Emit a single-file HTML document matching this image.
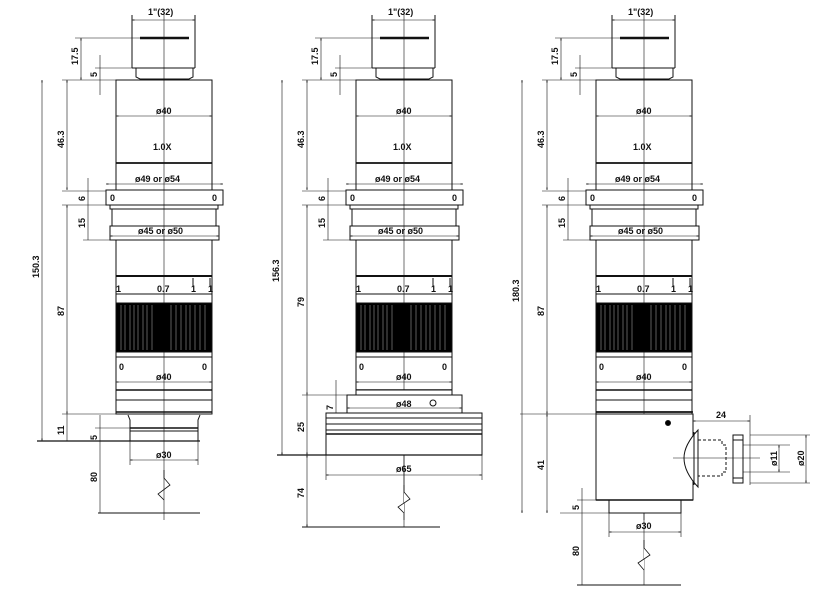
<!DOCTYPE html>
<html><head><meta charset="utf-8"><style>
html,body{margin:0;padding:0;background:#fff;}
svg{display:block;}
text{font-family:"Liberation Sans Narrow","Liberation Sans",sans-serif;font-size:9px;font-weight:bold;fill:#111;}
</style></head><body>
<svg width="827" height="594" viewBox="0 0 827 594" xmlns="http://www.w3.org/2000/svg">
<defs>
<marker id="a" viewBox="0 0 10 10" refX="10" refY="5" markerWidth="6" markerHeight="4" orient="auto-start-reverse"><path d="M0,2 L10,5 L0,8" fill="none" stroke="#222" stroke-width="1.5"/></marker>
</defs>
<g stroke="#111" stroke-width="1" fill="none">
<g id="L1">
 <line x1="164" y1="12" x2="164" y2="520" stroke-width="0.6"/>
 <line x1="132" y1="15" x2="132" y2="68"/><line x1="195" y1="15" x2="195" y2="68"/>
 <line x1="132" y1="20" x2="195" y2="20" marker-start="url(#a)" marker-end="url(#a)" stroke-width="0.6"/>
 <line x1="140" y1="38" x2="189" y2="38" stroke-width="2.5"/>
 <line x1="75" y1="38" x2="140" y2="38" stroke-width="0.6"/>
 <line x1="132" y1="68" x2="195" y2="68"/>
 <path d="M136,68 L136,77 L140,79 L189,79 L193,77 L193,68"/>
 <rect x="116" y="80" width="96" height="110"/>
 <line x1="116" y1="116" x2="212" y2="116" marker-start="url(#a)" marker-end="url(#a)" stroke-width="0.6"/>
 <line x1="116" y1="163" x2="212" y2="163" stroke-width="1.8"/>
 <line x1="106" y1="184" x2="223" y2="184" marker-start="url(#a)" marker-end="url(#a)" stroke-width="0.6"/>
 <rect x="106" y="190" width="117" height="15"/>
 <rect x="110" y="205" width="108" height="4"/>
 <rect x="112" y="209" width="104" height="17"/>
 <rect x="110" y="226" width="109" height="14"/>
 <line x1="110" y1="236" x2="219" y2="236" marker-start="url(#a)" marker-end="url(#a)" stroke-width="0.6"/>
 <rect x="116" y="240" width="96" height="174"/>
 <line x1="116" y1="276" x2="212" y2="276" stroke-width="2"/>
 <line x1="116" y1="294" x2="212" y2="294"/>
 <line x1="193" y1="278" x2="193" y2="286"/><line x1="210" y1="278" x2="210" y2="286"/>
 <rect x="116" y="303" width="96" height="49" fill="#000"/>
 <g stroke="#999" stroke-width="0.6">
  <line x1="121" y1="305" x2="121" y2="350"/><line x1="125" y1="305" x2="125" y2="350"/><line x1="130" y1="305" x2="130" y2="350"/><line x1="134" y1="305" x2="134" y2="350"/><line x1="138" y1="305" x2="138" y2="350"/><line x1="143" y1="305" x2="143" y2="350"/><line x1="147" y1="305" x2="147" y2="350"/><line x1="152" y1="305" x2="152" y2="350"/><line x1="171" y1="305" x2="171" y2="350"/><line x1="176" y1="305" x2="176" y2="350"/><line x1="181" y1="305" x2="181" y2="350"/><line x1="186" y1="305" x2="186" y2="350"/><line x1="190" y1="305" x2="190" y2="350"/><line x1="195" y1="305" x2="195" y2="350"/><line x1="200" y1="305" x2="200" y2="350"/><line x1="205" y1="305" x2="205" y2="350"/>
 </g>
 <line x1="116" y1="357" x2="212" y2="357"/>
 <line x1="116" y1="382" x2="212" y2="382" marker-start="url(#a)" marker-end="url(#a)" stroke-width="0.6"/>
 <line x1="116" y1="390" x2="212" y2="390" stroke-width="1.5"/>
 <line x1="116" y1="400" x2="212" y2="400"/>
 <line x1="116" y1="412" x2="212" y2="412" stroke-width="1.5"/>
 <line x1="62" y1="80" x2="116" y2="80" stroke-width="0.6"/>
 <line x1="67" y1="80" x2="67" y2="190" marker-start="url(#a)" marker-end="url(#a)" stroke-width="0.6"/>
 <line x1="62" y1="191" x2="106" y2="191" stroke-width="0.6"/>
 <line x1="62" y1="205" x2="106" y2="205" stroke-width="0.6"/>
 <line x1="83" y1="240" x2="110" y2="240" stroke-width="0.6"/>
 <line x1="88" y1="178" x2="88" y2="240" stroke-width="0.6"/>
 <line x1="81" y1="38" x2="81" y2="80" marker-start="url(#a)" marker-end="url(#a)" stroke-width="0.6"/>
 <line x1="95" y1="68" x2="132" y2="68" stroke-width="0.6"/>
 <line x1="100" y1="55" x2="100" y2="95" stroke-width="0.6"/>
</g>
<use href="#L1" transform="translate(240,0)"/>
<use href="#L1" transform="translate(480,0)"/>

<line x1="42" y1="80" x2="42" y2="441" marker-start="url(#a)" marker-end="url(#a)" stroke-width="0.6"/>
<line x1="67" y1="205" x2="67" y2="414" marker-start="url(#a)" marker-end="url(#a)" stroke-width="0.6"/>
<line x1="62" y1="414" x2="116" y2="414" stroke-width="0.6"/>
<line x1="67" y1="414" x2="67" y2="441" stroke-width="0.6"/>
<path d="M128,415 L130,420 L130,441 M200,415 L198,420 L198,441"/>
<line x1="130" y1="428" x2="198" y2="428" stroke-width="1.5"/>
<line x1="130" y1="431" x2="198" y2="431"/>
<line x1="37" y1="441" x2="200" y2="441" stroke-width="1.2"/>
<line x1="130" y1="441" x2="130" y2="465" stroke-width="0.6"/><line x1="198" y1="441" x2="198" y2="465" stroke-width="0.6"/>
<line x1="130" y1="460" x2="198" y2="460" marker-start="url(#a)" marker-end="url(#a)" stroke-width="0.6"/>
<line x1="100" y1="415" x2="100" y2="513" stroke-width="0.6"/>
<line x1="95" y1="428" x2="130" y2="428" stroke-width="0.6"/>
<polyline points="164,470 164,478 170,485 158,494 164,500" stroke-width="0.8"/>
<line x1="98" y1="513" x2="200" y2="513"/>

<line x1="282" y1="80" x2="282" y2="455" marker-start="url(#a)" marker-end="url(#a)" stroke-width="0.6"/>
<line x1="307" y1="205" x2="307" y2="395" marker-start="url(#a)" marker-end="url(#a)" stroke-width="0.6"/>
<line x1="302" y1="395" x2="347" y2="395" stroke-width="0.6"/>
<line x1="307" y1="395" x2="307" y2="455" marker-end="url(#a)" stroke-width="0.6"/>
<line x1="336" y1="380" x2="336" y2="428" stroke-width="0.6"/>
<rect x="356" y="390" width="96" height="5" fill="#fff"/>
<rect x="347" y="395" width="115" height="18" fill="#fff"/>
<line x1="347" y1="408" x2="462" y2="408" marker-start="url(#a)" marker-end="url(#a)" stroke-width="0.6"/>
<circle cx="433" cy="403" r="3"/>
<rect x="326" y="413" width="156" height="42" fill="#fff"/>
<line x1="326" y1="418" x2="482" y2="418"/><line x1="326" y1="424" x2="482" y2="424"/><line x1="326" y1="430" x2="482" y2="430"/><line x1="326" y1="434" x2="482" y2="434" stroke-width="1.4"/>
<line x1="277" y1="455" x2="482" y2="455" stroke-width="1.2"/>
<line x1="326" y1="455" x2="326" y2="480" stroke-width="0.6"/><line x1="482" y1="455" x2="482" y2="480" stroke-width="0.6"/>
<line x1="326" y1="475" x2="482" y2="475" marker-start="url(#a)" marker-end="url(#a)" stroke-width="0.6"/>
<line x1="307" y1="455" x2="307" y2="527" marker-start="url(#a)" marker-end="url(#a)" stroke-width="0.6"/>
<line x1="404" y1="455" x2="404" y2="527" stroke-width="0.6"/>
<polyline points="404,485 404,492 410,499 398,507 404,513" stroke="#111" stroke-width="0.8" fill="#fff"/>
<line x1="302" y1="527" x2="440" y2="527"/>

<line x1="522" y1="80" x2="522" y2="513" marker-start="url(#a)" marker-end="url(#a)" stroke-width="0.6"/>
<line x1="547" y1="205" x2="547" y2="414" marker-start="url(#a)" marker-end="url(#a)" stroke-width="0.6"/>
<line x1="520" y1="414" x2="596" y2="414" stroke-width="0.6"/>
<line x1="547" y1="414" x2="547" y2="513" marker-start="url(#a)" marker-end="url(#a)" stroke-width="0.6"/>
<rect x="596" y="414" width="97" height="86" fill="#fff"/>
<line x1="596" y1="412" x2="693" y2="412" stroke-width="1.5"/>
<circle cx="668" cy="423" r="2.5" fill="#000"/>
<line x1="693" y1="421" x2="750" y2="421" marker-start="url(#a)" marker-end="url(#a)" stroke-width="0.6"/>
<line x1="750" y1="415" x2="750" y2="485" stroke-width="0.6"/>
<path d="M698,430 Q684,445 684,458 Q684,472 698,487 Z" fill="#fff"/>
<line x1="694" y1="432" x2="694" y2="485"/>
<path d="M698,440 L722,440 L722,445 L726,445 L726,472 L722,472 L722,476 L698,476" stroke-dasharray="3,2"/>
<rect x="733" y="435" width="10" height="48"/>
<line x1="733" y1="440" x2="743" y2="440"/><line x1="733" y1="478" x2="743" y2="478"/>
<line x1="743" y1="445" x2="790" y2="445" stroke-width="0.6"/><line x1="743" y1="472" x2="790" y2="472" stroke-width="0.6"/>
<line x1="750" y1="435" x2="810" y2="435" stroke-width="0.6"/><line x1="750" y1="483" x2="810" y2="483" stroke-width="0.6"/>
<line x1="779" y1="445" x2="779" y2="472" marker-start="url(#a)" marker-end="url(#a)" stroke-width="0.6"/>
<line x1="806" y1="435" x2="806" y2="483" marker-start="url(#a)" marker-end="url(#a)" stroke-width="0.6"/>
<line x1="673" y1="458" x2="760" y2="458" stroke-width="0.6"/>
<rect x="609" y="500" width="72" height="13" fill="#fff"/>
<line x1="596" y1="500" x2="693" y2="500" stroke-width="1.5"/>
<line x1="560" y1="513" x2="681" y2="513" stroke-width="0.6"/>
<line x1="577" y1="500" x2="681" y2="500" stroke-width="0.6"/>
<line x1="582" y1="488" x2="582" y2="585" stroke-width="0.6"/>
<line x1="609" y1="513" x2="609" y2="537" stroke-width="0.6"/><line x1="681" y1="513" x2="681" y2="537" stroke-width="0.6"/>
<line x1="609" y1="532" x2="681" y2="532" marker-start="url(#a)" marker-end="url(#a)" stroke-width="0.6"/>
<line x1="644" y1="513" x2="644" y2="585" stroke-width="0.6"/>
<polyline points="644,540 644,548 650,555 638,563 644,570" fill="#fff" stroke-width="0.8"/>
<line x1="577" y1="585" x2="681" y2="585"/>
</g>

<g id="T1">
<text x="148" y="15">1"(32)</text>
<text x="156" y="114">ø40</text>
<text x="153" y="150">1.0X</text>
<text x="135" y="182">ø49 or ø54</text>
<text x="110" y="201">0</text><text x="212" y="201">0</text>
<text x="138" y="234">ø45 or ø50</text>
<text x="116" y="292" font-size="6">1</text><text x="157" y="292" font-size="6">0.7</text><text x="191" y="292" font-size="6">1</text><text x="208" y="292" font-size="6">1</text>
<text x="119" y="370">0</text><text x="202" y="370">0</text>
<text x="156" y="380">ø40</text>
<text transform="translate(78,65) rotate(-90)">17.5</text>
<text transform="translate(97,77) rotate(-90)">5</text>
<text transform="translate(64,148) rotate(-90)">46.3</text>
<text transform="translate(85,201) rotate(-90)">6</text>
<text transform="translate(85,228) rotate(-90)">15</text>
</g>
<use href="#T1" transform="translate(240,0)"/>
<use href="#T1" transform="translate(480,0)"/>

<text transform="translate(39,278) rotate(-90)">150.3</text>
<text transform="translate(64,316) rotate(-90)">87</text>
<text transform="translate(64,435) rotate(-90)">11</text>
<text transform="translate(97,440) rotate(-90)">5</text>
<text x="156" y="458">ø30</text>
<text transform="translate(97,482) rotate(-90)">80</text>

<text transform="translate(279,282) rotate(-90)">156.3</text>
<text transform="translate(304,307) rotate(-90)">79</text>
<text transform="translate(333,410) rotate(-90)">7</text>
<text transform="translate(304,432) rotate(-90)">25</text>
<text x="396" y="407">ø48</text>
<text x="396" y="472">ø65</text>
<text transform="translate(304,498) rotate(-90)">74</text>

<text transform="translate(519,302) rotate(-90)">180.3</text>
<text transform="translate(544,316) rotate(-90)">87</text>
<text transform="translate(544,470) rotate(-90)">41</text>
<text x="716" y="418">24</text>
<text transform="translate(777,466) rotate(-90)">ø11</text>
<text transform="translate(804,466) rotate(-90)">ø20</text>
<text transform="translate(579,510) rotate(-90)">5</text>
<text x="636" y="529">ø30</text>
<text transform="translate(579,556) rotate(-90)">80</text>
</svg>
</body></html>
